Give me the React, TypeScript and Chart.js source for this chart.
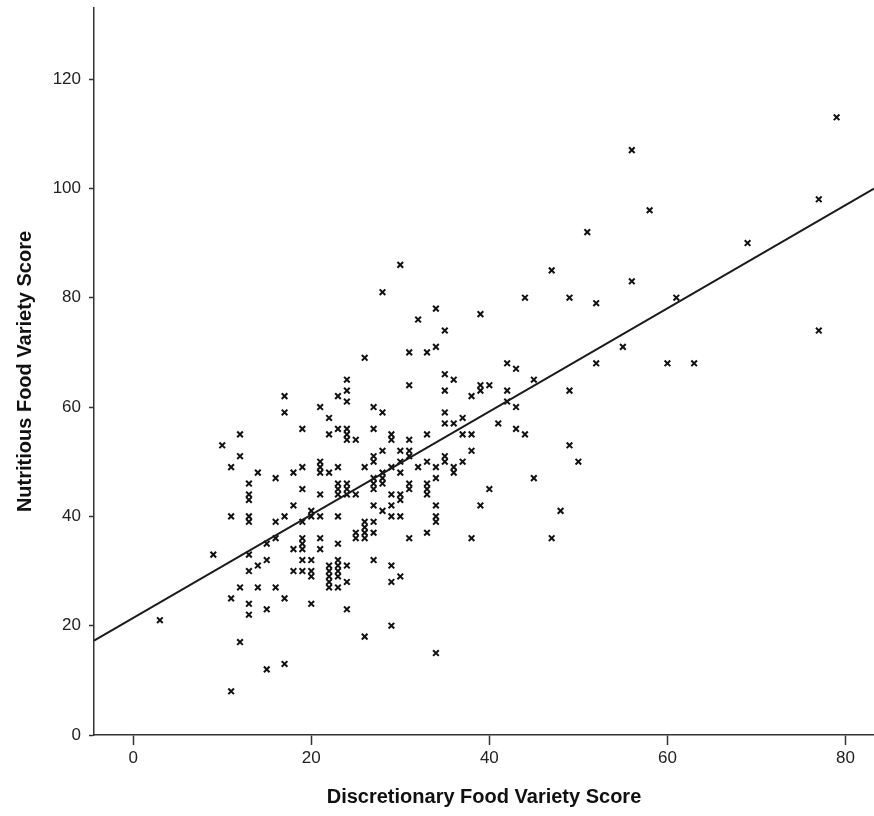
import React, { useEffect, useRef } from "react";
import { Chart, registerables } from "chart.js";

Chart.register(...registerables);

// Discretionary Food Variety Score (x) for each respondent
const discretionaryScores: number[] = [
  3,
  9,
  10,
  11, 11, 11, 11,
  12, 12, 12, 12,
  13, 13, 13, 13, 13, 13, 13, 13, 13,
  14, 14, 14,
  15, 15, 15, 15,
  16, 16, 16, 16,
  17, 17, 17, 17, 17,
  18, 18, 18, 18,
  19, 19, 19, 19, 19, 19, 19, 19, 19,
  20, 20, 20, 20, 20, 20,
  21, 21, 21, 21, 21, 21, 21, 21,
  22, 22, 22, 22, 22, 22, 22, 22,
  23, 23, 23, 23, 23, 23, 23, 23, 23, 23, 23, 23, 23,
  24, 24, 24, 24, 24, 24, 24, 24, 24, 24, 24, 24,
  25, 25, 25, 25,
  26, 26, 26, 26, 26, 26, 26,
  27, 27, 27, 27, 27, 27, 27, 27, 27, 27, 27,
  28, 28, 28, 28, 28, 28, 28,
  29, 29, 29, 29, 29, 29, 29, 29, 29,
  30, 30, 30, 30, 30, 30, 30, 30,
  31, 31, 31, 31, 31, 31, 31, 31,
  32, 32,
  33, 33, 33, 33, 33, 33, 33,
  34, 34, 34, 34, 34, 34, 34, 34,
  35, 35, 35, 35, 35, 35, 35,
  36, 36, 36, 36,
  37, 37, 37,
  38, 38, 38, 38,
  39, 39, 39, 39,
  40, 40,
  41,
  42, 42, 42,
  43, 43, 43,
  44, 44,
  45, 45,
  47, 47,
  48,
  49, 49, 49,
  50,
  51,
  52, 52,
  55,
  56, 56,
  58,
  60,
  61,
  63,
  69,
  77, 77,
  79,
];

// Nutritious Food Variety Score (y) for each respondent (same order)
const nutritiousScores: number[] = [
  21,
  33,
  53,
  49, 40, 25, 8,
  55, 51, 27, 17,
  46, 44, 43, 40, 39, 33, 30, 24, 22,
  48, 31, 27,
  35, 32, 23, 12,
  47, 39, 36, 27,
  62, 59, 40, 25, 13,
  48, 42, 34, 30,
  56, 49, 45, 39, 36, 35, 34, 32, 30,
  41, 40, 32, 30, 29, 24,
  60, 50, 49, 48, 44, 40, 36, 34,
  58, 55, 48, 31, 30, 29, 28, 27,
  62, 56, 49, 46, 45, 44, 40, 35, 32, 31, 30, 29, 27,
  65, 63, 61, 56, 55, 54, 46, 45, 44, 31, 28, 23,
  54, 44, 37, 36,
  69, 49, 39, 38, 37, 36, 18,
  60, 56, 51, 50, 47, 46, 45, 42, 39, 37, 32,
  81, 59, 52, 48, 47, 46, 41,
  55, 54, 49, 44, 42, 40, 31, 28, 20,
  86, 52, 50, 48, 44, 43, 40, 29,
  70, 64, 54, 52, 51, 46, 45, 36,
  76, 49,
  70, 55, 50, 46, 45, 44, 37,
  78, 71, 49, 47, 42, 40, 39, 15,
  74, 66, 63, 59, 57, 51, 50,
  65, 57, 49, 48,
  58, 55, 50,
  62, 55, 52, 36,
  77, 64, 63, 42,
  64, 45,
  57,
  68, 63, 61,
  67, 60, 56,
  80, 55,
  65, 47,
  85, 36,
  41,
  80, 63, 53,
  50,
  92,
  79, 68,
  71,
  107, 83,
  96,
  68,
  80,
  68,
  90,
  98, 74,
  113,
];

// Fit line (linear regression)
const fitIntercept = 21.4;
const fitSlope = 0.944;

// Axis ranges and tick steps
const xRange = [-4.4, 83.2];
const yRange = [0, 133];
const xTickStep = 20;
const yTickStep = 20;

const xTitle = "Discretionary Food Variety Score";
const yTitle = "Nutritious Food Variety Score";

const FONT = "'Liberation Sans', Arial, sans-serif";

export default function App() {
  const canvasRef = useRef<HTMLCanvasElement | null>(null);

  useEffect(() => {
    const canvas = canvasRef.current;
    if (!canvas) return;

    const points = discretionaryScores.map((x, i) => ({ x, y: nutritiousScores[i] }));
    const fitLine = [
      { x: xRange[0], y: fitIntercept + fitSlope * xRange[0] },
      { x: xRange[1], y: fitIntercept + fitSlope * xRange[1] },
    ];

    const chart = new Chart(canvas, {
      type: "scatter",
      data: {
        datasets: [
          {
            type: "line",
            label: "Fit",
            data: fitLine,
            borderColor: "#1a1a1a",
            borderWidth: 2,
            pointRadius: 0,
            fill: false,
            tension: 0,
          } as any,
          {
            label: "Respondents",
            data: points,
            pointStyle: "crossRot",
            pointRadius: 4,
            pointBorderWidth: 2,
            borderColor: "#111",
            backgroundColor: "#111",
          },
        ],
      },
      options: {
        animation: false,
        responsive: false,
        maintainAspectRatio: false,
        layout: { autoPadding: false, padding: { top: 8, right: 0, bottom: 0, left: 0 } },
        plugins: {
          legend: { display: false },
          tooltip: { enabled: false },
        },
        scales: {
          x: {
            type: "linear",
            min: xRange[0],
            max: xRange[1],
            afterFit: (scale: any) => {
              scale.height = 81;
              scale.paddingLeft = 0;
              scale.paddingRight = 0;
            },
            border: { display: true, color: "#333", width: 1.5 },
            grid: {
              display: true,
              drawOnChartArea: false,
              drawTicks: true,
              tickLength: 10,
              tickColor: "#333",
              tickWidth: 1.5,
            },
            ticks: {
              stepSize: xTickStep,
              includeBounds: false,
              color: "#222",
              padding: 3,
              maxRotation: 0,
              font: { family: FONT, size: 17 },
            },
            title: {
              display: true,
              text: xTitle,
              color: "#111",
              padding: { top: 0, bottom: 7 },
              font: { family: FONT, size: 20, weight: "bold" },
            },
          },
          y: {
            type: "linear",
            min: yRange[0],
            max: yRange[1],
            afterFit: (scale: any) => {
              scale.width = 94;
              scale.paddingTop = 0;
              scale.paddingBottom = 0;
            },
            border: { display: true, color: "#333", width: 1.5 },
            grid: {
              display: true,
              drawOnChartArea: false,
              drawTicks: true,
              tickLength: 5,
              tickColor: "#333",
              tickWidth: 1.5,
            },
            ticks: {
              stepSize: yTickStep,
              includeBounds: false,
              color: "#222",
              padding: 8,
              font: { family: FONT, size: 17 },
            },
            title: {
              display: true,
              text: yTitle,
              color: "#111",
              padding: { top: 13, bottom: 0 },
              font: { family: FONT, size: 20, weight: "bold" },
            },
          },
        },
      },
    });

    return () => chart.destroy();
  }, []);

  return (
    <div style={{ position: "absolute", left: 0, top: 0, width: 874, height: 816, background: "#fff" }}>
      <canvas ref={canvasRef} width={874} height={816} style={{ width: 874, height: 816, display: "block" }} />
    </div>
  );
}
